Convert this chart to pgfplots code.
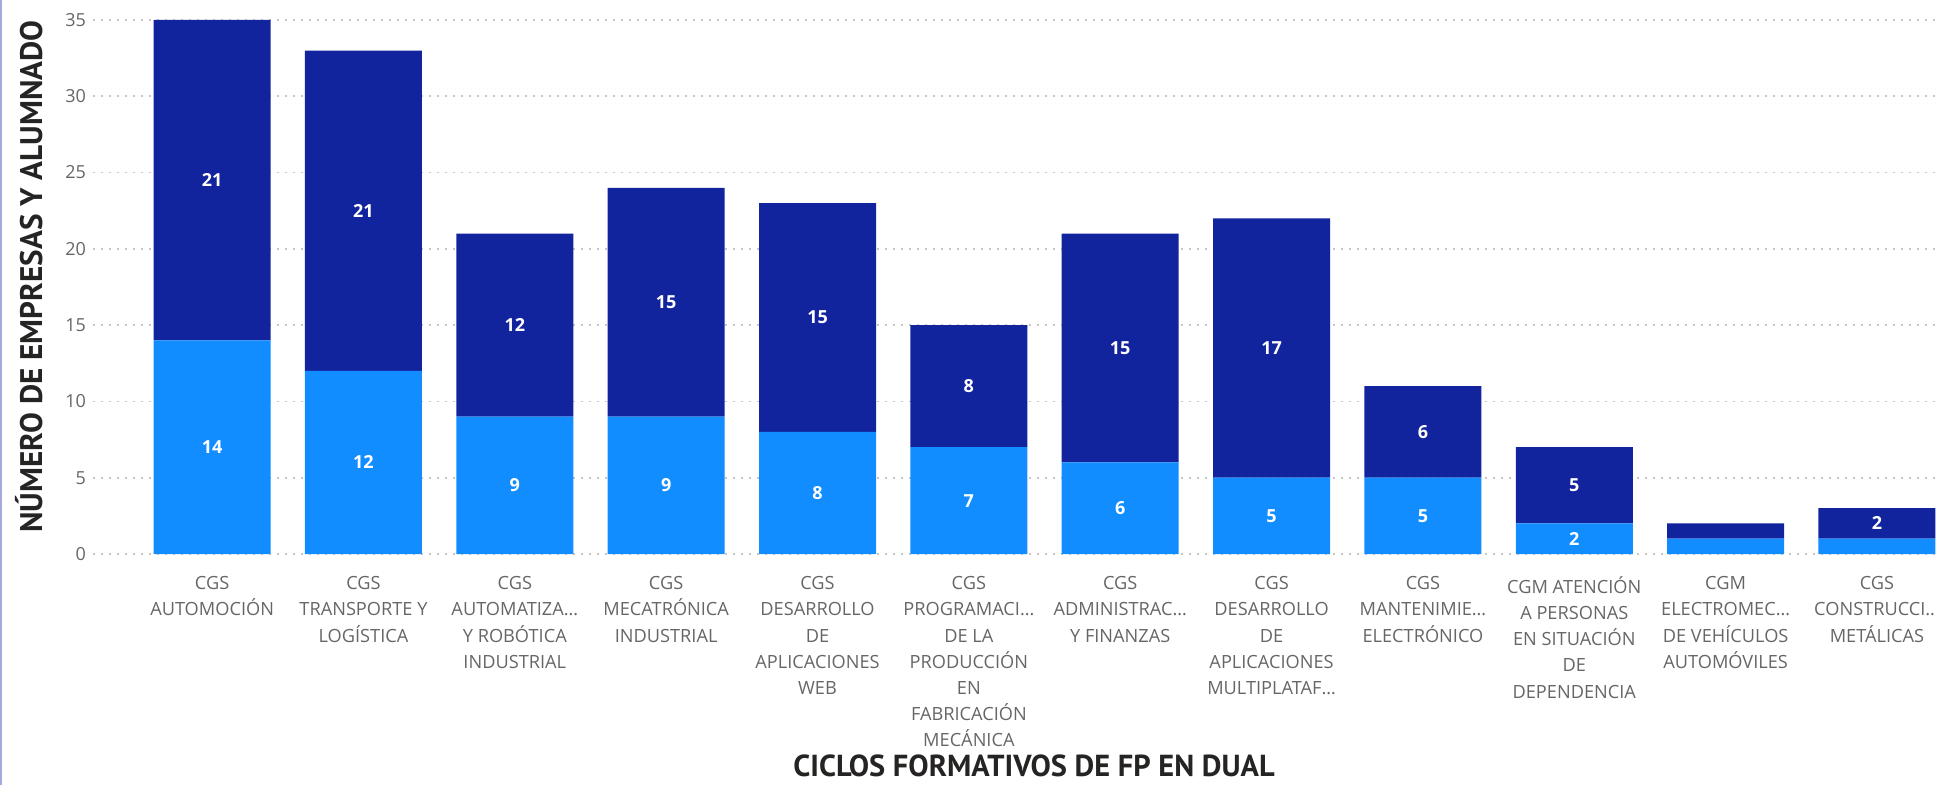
\documentclass[border=0pt]{standalone}
\usepackage{fontspec}
\setmainfont{Open Sans}
\newfontfamily\titlefont{PT Sans}
\usepackage{pgfplots}
\usepackage{pgfplotstable}
\pgfplotsset{compat=1.18}
\definecolor{darkbar}{HTML}{12239E}
\definecolor{lightbar}{HTML}{118DFF}
\definecolor{ticktext}{HTML}{666666}
\definecolor{titletext}{HTML}{252423}
\definecolor{gridc}{HTML}{C8C6C4}
\definecolor{edgec}{HTML}{A8A8E0}
\pgfplotstableread{
x light dark
0 14 21
1 12 21
2 9 12
3 9 15
4 8 15
5 7 8
6 6 15
7 5 17
8 5 6
9 2 5
10 1 1
11 1 2
}\data
\pgfplotsset{
  common/.style={
    at={(0,0)}, anchor=south west,
    scale only axis, width=921.5bp, height=267bp,
    xmin=-0.787, xmax=11.39, ymin=0, ymax=35,
  }
}
\begin{document}
\begin{tikzpicture}
\begin{axis}[common,
  ybar stacked, bar width=0.773,
  axis line style={draw=none},
  major tick style={draw=none},
  ytick={0,5,...,35},
  ymajorgrids,
  grid style={gridc, line width=0.8bp, dash pattern=on 1bp off 3bp},
  /pgf/number format/assume math mode=true,
  yticklabel style={font=\fontsize{9bp}{10bp}\selectfont, color=ticktext},
  xtick=data,
  xticklabels={
    {CGS\\AUTOMOCIÓN},
    {CGS\\TRANSPORTE Y\\LOGÍSTICA},
    {CGS\\AUTOMATIZA…\\Y ROBÓTICA\\INDUSTRIAL},
    {CGS\\MECATRÓNICA\\INDUSTRIAL},
    {CGS\\DESARROLLO\\DE\\APLICACIONES\\WEB},
    {CGS\\PROGRAMACI…\\DE LA\\PRODUCCIÓN\\EN\\FABRICACIÓN\\MECÁNICA},
    {CGS\\ADMINISTRAC…\\Y FINANZAS},
    {CGS\\DESARROLLO\\DE\\APLICACIONES\\MULTIPLATAF…},
    {CGS\\MANTENIMIE…\\ELECTRÓNICO},
    {CGM ATENCIÓN\\A PERSONAS\\EN SITUACIÓN\\DE\\DEPENDENCIA},
    {CGM\\ELECTROMEC…\\DE VEHÍCULOS\\AUTOMÓVILES},
    {CGS\\CONSTRUCCI…\\METÁLICAS}},
  xticklabel style={font=\fontsize{9.1bp}{13.1bp}\selectfont, color=ticktext, align=center, anchor=north, yshift=-7.7bp},
  xlabel={CICLOS FORMATIVOS DE FP EN DUAL},
  xlabel style={font=\titlefont\bfseries\fontsize{15.2bp}{17bp}\selectfont, color=titletext, at={(axis description cs:0.5106,-0.397)}, anchor=center},
  ylabel={NÚMERO DE EMPRESAS Y ALUMNADO},
  ylabel style={font=\titlefont\bfseries\fontsize{15.6bp}{17bp}\selectfont, color=titletext, at={(axis description cs:-0.0345,0.52)}, anchor=center, rotate=0},
]
\addplot[fill=lightbar, draw=none] table[x=x, y=light] {\data};
\addplot[fill=darkbar, draw=none] table[x=x, y=dark] {\data};
\end{axis}
\begin{axis}[common, hide axis,
  nodes near coords={\pgfmathprintnumber[assume math mode=true]{\pgfplotspointmeta}},
  every node near coord/.append style={anchor=center, color=white, font=\bfseries\fontsize{9bp}{10bp}\selectfont},
]
\addplot[only marks, mark=none, point meta=\thisrow{light}, restrict expr to domain={\thisrow{light}}{1.5:100}]
  table[x=x, y expr=\thisrow{light}/2] {\data};
\addplot[only marks, mark=none, point meta=\thisrow{dark}, restrict expr to domain={\thisrow{dark}}{1.5:100}]
  table[x=x, y expr=\thisrow{light}+\thisrow{dark}/2] {\data};
\end{axis}
\draw[edgec, line width=1.2bp] (-45.9bp,-115.5bp) -- (-45.9bp,277bp);
\pgfresetboundingbox
\path (-46.5bp,-115.5bp) rectangle (921.5bp,277bp);
\end{tikzpicture}
\end{document}
